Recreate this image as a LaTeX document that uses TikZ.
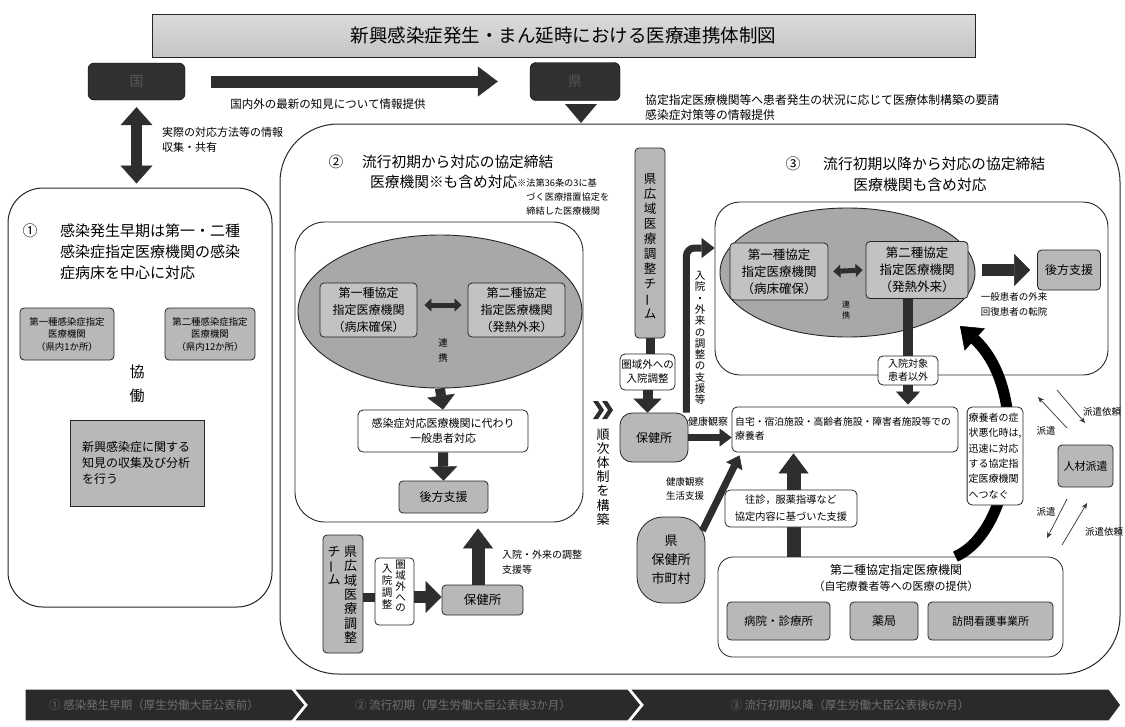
\documentclass[tikz,border=0pt]{standalone}
\usepackage{fontspec}
\setmainfont{Noto Sans CJK JP}
\usetikzlibrary{arrows.meta,shapes.geometric}
\newcommand\myfs[2]{\fontsize{#1}{#2}\selectfont}
\newcommand\vbar{\rotatebox[origin=c]{90}{ー}}
\makeatletter
\def\vt@end{\vt@end}
\newcommand\vtxt[2]{\vbox{\offinterlineskip\def\vt@sp{#1}\vt@loop#2\vt@end}}
\def\vt@loop#1{\ifx#1\vt@end\else\hbox to 1em{\hss\vrule height\vt@sp depth 0pt width 0pt\smash{#1}\hss}\expandafter\vt@loop\fi}
\makeatother
\definecolor{darkfill}{HTML}{303030}
\definecolor{darktext}{HTML}{555555}
\definecolor{arrcol}{HTML}{2E2E2E}
\definecolor{boxgray}{HTML}{B8B8B8}
\definecolor{innergray}{HTML}{C2C2C2}
\definecolor{ellgray}{HTML}{A8A8A8}
\definecolor{titlegray}{HTML}{C4C4C4}
\definecolor{barcol}{HTML}{2A2A2A}
\definecolor{bartext}{HTML}{707070}
\begin{document}
\begin{tikzpicture}[x=1pt,y=-1pt,
  every node/.style={inner sep=1pt},
  gbox/.style={draw=black!85, fill=boxgray, rounded corners=4pt, line width=0.8pt, align=center},
  ibox/.style={draw=black!85, fill=innergray, rounded corners=4pt, line width=0.8pt, align=center},
  wbox/.style={draw=black!85, fill=white, rounded corners=5pt, line width=0.8pt, align=center},
  dkbox/.style={draw=black, fill=darkfill, rounded corners=6pt, text=darktext},
  frame/.style={draw=black!85, line width=1pt},
  arrA/.style={draw=arrcol, line width=12pt, -{Triangle[length=20pt,width=30pt,line width=0.5pt]}},
  dblV/.style={draw=arrcol, line width=11pt, {Triangle[length=18pt,width=32pt,line width=0.5pt]}-{Triangle[length=18pt,width=32pt,line width=0.5pt]}},
  dblH/.style={draw=arrcol, line width=5pt, {Triangle[length=7pt,width=13pt,line width=0.5pt]}-{Triangle[length=7pt,width=13pt,line width=0.5pt]}},
  arrB/.style={draw=arrcol, line width=10pt, -{Triangle[length=14pt,width=28pt,line width=0.5pt]}},
  arrC/.style={draw=arrcol, line width=12pt, -{Triangle[length=16pt,width=32pt,line width=0.5pt]}},
  arrUp/.style={draw=arrcol, line width=13pt, -{Triangle[length=20pt,width=30pt,line width=0.5pt]}},
  arrE/.style={draw=arrcol, line width=7pt, -{Triangle[length=13pt,width=20pt,line width=0.5pt]}},
  arrF/.style={draw=arrcol, line width=7pt, -{Triangle[length=12pt,width=18pt,line width=0.5pt]}},
  arrH/.style={draw=arrcol, line width=10pt, -{Triangle[length=13pt,width=24pt,line width=0.5pt]}},
  arrI/.style={draw=arrcol, line width=14pt, -{Triangle[length=20pt,width=30pt,line width=0.5pt]}},
  curvearr/.style={draw=black, line width=11pt, -{Triangle[length=20pt,width=30pt,line width=0.5pt]}},
  stub/.style={draw=arrcol, line width=9pt},
  thin/.style={draw=black!80, line width=0.7pt, -{Stealth[length=6pt,width=5pt]}},
  seg/.style={fill=barcol, draw=white, line width=1.2pt},
  bartxt/.style={text=bartext, font=\myfs{11.5}{13}}
]
\useasboundingbox (0,0) rectangle (1125,726);
\fill[white] (0,0) rectangle (1125,726);

% ---------- header ----------
\node[draw=black!85, line width=0.8pt, top color=titlegray!60, bottom color=titlegray,
      minimum width=823pt, minimum height=43pt, font=\myfs{18.5}{20}] (title) at (563.5,35.5)
      {新興感染症発生・まん延時における医療連携体制図};
\node[dkbox, minimum width=97pt, minimum height=37pt, font=\myfs{14}{16}] (kuni) at (136.5,81.5) {国};
\node[dkbox, minimum width=90pt, minimum height=38pt, font=\myfs{14}{16}] (ken) at (575,81.5) {県};
\node[font=\myfs{11.5}{13}] (lbl1) at (328,104) {国内外の最新の知見について情報提供};
\node[anchor=west, font=\myfs{11.8}{13}] (lbl2) at (644,100) {協定指定医療機関等へ患者発生の状況に応じて医療体制構築の要請};
\node[anchor=west, font=\myfs{11.8}{13}] (lbl3) at (644,115) {感染症対策等の情報提供};
\fill[arrcol] (565,104) -- (597,104) -- (581,123) -- cycle;

% ---------- box 1 ----------
\node[frame, rounded corners=35pt, minimum width=264pt, minimum height=419pt] (box1) at (140,397.5) {};
\node[anchor=west, align=left, font=\myfs{11}{14.5}] (lbl4) at (161,140) {実際の対応方法等の情報\\収集・共有};
\node[font=\myfs{15}{21}] (n1) at (30,231) {①};
\node[anchor=west, align=left, font=\myfs{15}{21}] (t1) at (59,252) {感染発生早期は第一・二種\\感染症指定医療機関の感染\\症病床を中心に対応};
\node[gbox, minimum width=94pt, minimum height=52pt, font=\myfs{9.4}{12.5}] (s1) at (67,334) {第一種感染症指定\\医療機関\\（県内1か所）};
\node[gbox, minimum width=90pt, minimum height=52pt, font=\myfs{9.4}{12.5}] (s2) at (210,334) {第二種感染症指定\\医療機関\\（県内12か所）};
\node[font=\myfs{15}{24}] (kyodo) at (137,377) {\vtxt{24pt}{協働}};
\node[draw=black!85, fill=boxgray, line width=0.8pt, minimum width=134pt, minimum height=86pt,
      font=\myfs{12}{16}, align=left, text width=110pt] (s3) at (137,463) {新興感染症に関する\\知見の収集及び分析\\を行う};

% ---------- big box ----------
\node[frame, rounded corners=58pt, minimum width=840pt, minimum height=550pt] (box2) at (700,399) {};

% ---------- section 2 ----------
\node[font=\myfs{14.7}{18}] (n2) at (336,162) {②};
\node[anchor=west, font=\myfs{14.7}{18}] (t2a) at (361,162) {流行初期から対応の協定締結};
\node[anchor=west, font=\myfs{14.7}{18}] (t2b) at (369,182) {医療機関※も含め対応};
\node[anchor=west, align=left, font=\myfs{9.2}{14}] (note2) at (516,197) {※法第36条の3に基\\\phantom{※}づく医療措置協定を\\\phantom{※}締結した医療機関};
\node[frame, line width=0.9pt, rounded corners=30pt, minimum width=288pt, minimum height=300pt] (in2) at (439,372) {};
\node[draw=black!85, line width=0.9pt, fill=ellgray, ellipse, minimum width=284pt, minimum height=153pt, inner sep=0pt] (el2) at (440,311.5) {};
\node[ibox, minimum width=97pt, minimum height=54pt, font=\myfs{12}{17}] (e2a) at (368.5,310) {第一種協定\\指定医療機関\\（病床確保）};
\node[ibox, minimum width=97pt, minimum height=54pt, font=\myfs{12}{17}] (e2b) at (516.5,310) {第二種協定\\指定医療機関\\（発熱外来）};
\node[font=\myfs{9.5}{15.5}] (rk2) at (443,346) {\vtxt{15.5pt}{連携}};
\node[wbox, minimum width=170pt, minimum height=42pt, font=\myfs{11}{15}] (kan) at (443,431) {感染症対応医療機関に代わり\\一般患者対応};
\node[gbox, minimum width=89pt, minimum height=32pt, font=\myfs{12}{14}] (kou2) at (443.5,497) {後方支援};
\draw[dblH] ([xshift=7pt,yshift=5pt]e2a.east) -- ([xshift=-6pt,yshift=5pt]e2b.west);
\draw[arrB] (el2.south) -- (kan.north);
\draw[arrB] (kan.south) -- (kou2.north);

% lower part of section 2
\node[gbox, minimum width=40pt, minimum height=118pt] (team1) at (343,594) {};
\node[font=\myfs{13}{14.3}, anchor=north] (team1a) at (350.5,541) {\vtxt{14.3pt}{県広域医療調整}};
\node[font=\myfs{13}{14.3}, anchor=north] (team1b) at (334,541) {\vtxt{14pt}{チ\vbar ム}};
\node[wbox, rounded corners=4pt, minimum width=39pt, minimum height=67pt] (ken1) at (394.5,591.5) {};
\node[font=\myfs{10.5}{10.8}, anchor=north] (ken1a) at (400.5,557) {\vtxt{10.7pt}{圏域外への}};
\node[font=\myfs{10.5}{12}, anchor=north] (ken1b) at (387,559) {\vtxt{12pt}{入院調整}};
\node[gbox, minimum width=81pt, minimum height=30pt, font=\myfs{12.5}{14}] (hok1) at (482.5,600) {保健所};
\node[anchor=west, align=left, font=\myfs{10}{15}] (lbl5) at (501,562) {入院・外来の調整\\支援等};
\coordinate (a1) at ([yshift=-3pt]team1.east);
\draw[stub] (a1) -- (a1 -| ken1.west);
\draw[arrC] (ken1.east |- a1) -- (hok1.west |- a1);
\coordinate (u1) at ([xshift=-4.5pt]hok1.north);
\coordinate (u2) at (u1 |- in2.south);
\draw[arrUp] (u1) -- ([yshift=-6pt]u2);

% ---------- middle ----------
\foreach \xx in {593,602} {
  \fill[arrcol] (\xx,401) -- (\xx+5,401) -- (\xx+11,410) -- (\xx+5,419) -- (\xx,419) -- (\xx+6,410) -- cycle;
}
\node[font=\myfs{13}{14.2}] (junji) at (603,474.5) {\vtxt{14.2pt}{順次体制を構築}};
\node[gbox, minimum width=30pt, minimum height=190pt, font=\myfs{12.5}{15}] (team2) at (650,243) {\vtxt{15pt}{県広域医療調整チ\vbar ム}};
\node[wbox, minimum width=55pt, minimum height=36pt, font=\myfs{10.5}{14}] (ken2) at (647.5,372) {圏域外への\\入院調整};
\node[gbox, rounded corners=12pt, minimum width=68pt, minimum height=49pt, font=\myfs{12}{14}] (hok2) at (654,437.5) {保健所};
\draw[stub] (team2.south) -- (team2.south |- ken2.north);
\draw[arrB] (ken2.south) -- (ken2.south |- hok2.north);

% ---------- section 3 ----------
\node[frame, line width=0.9pt, rounded corners=25pt, minimum width=393pt, minimum height=173pt] (in3) at (911.5,288.5) {};
\node[font=\myfs{15}{18}] (n3) at (793,164) {③};
\node[anchor=west, font=\myfs{14.8}{18}] (t3a) at (822,164) {流行初期以降から対応の協定締結};
\node[font=\myfs{14.8}{18}] (t3b) at (920,185) {医療機関も含め対応};
\node[draw=black!85, line width=0.9pt, fill=ellgray, ellipse, minimum width=255pt, minimum height=129pt, inner sep=0pt] (el3) at (847.5,272.5) {};
\node[ibox, minimum width=98pt, minimum height=57pt, font=\myfs{12.5}{17}] (e3a) at (779,271.5) {第一種協定\\指定医療機関\\（病床確保）};
\node[ibox, minimum width=102pt, minimum height=57pt, font=\myfs{12.5}{17}] (e3b) at (917,270) {第二種協定\\指定医療機関\\（発熱外来）};
\node[font=\myfs{8}{11}] (rk3) at (846,307) {\vtxt{11pt}{連携}};
\node[gbox, minimum width=63pt, minimum height=40pt, font=\myfs{12}{14}] (kou3) at (1069,270) {後方支援};
\node[align=center, font=\myfs{9.5}{15}] (lbl8) at (1014,304.5) {一般患者の外来\\回復患者の転院};
\node[wbox, minimum width=60pt, minimum height=29pt, font=\myfs{10}{13}] (inj) at (908,370.5) {入院対象\\患者以外};
\draw[dblH] ([xshift=5pt]e3a.east) -- ([xshift=-3pt]e3b.west);
\draw[arrC] ([xshift=14pt]e3b.east) -- ([xshift=-7pt]kou3.west);

% elbow arrow from middle hokenjo
\coordinate (e1) at ([xshift=-2pt]hok2.north east);
\coordinate (y248) at (0,248);
\draw[arrE, rounded corners=8pt] (e1) -- (e1 |- y248) -- (in3.west |- y248);
\node[font=\myfs{10.5}{11.3}] (lbl6) at (700,336) {\vtxt{11.3pt}{入院・外来の調整の支援等}};

% home care box
\node[wbox, minimum width=226pt, minimum height=45pt] (jit) at (845,429.5) {};
\node[anchor=west, align=left, font=\myfs{9.8}{14}] (jitt) at (734,429) {自宅・宿泊施設・高齢者施設・障害者施設等での\\療養者};
\draw[arrF] (hok2.east) -- (hok2.east -| jit.west);
\node[font=\myfs{10}{12}] (lbl7) at (708,422) {健康観察};
\draw[arrH, -] (e3b.south -| inj.north) -- (inj.north);
\draw[arrH] (inj.south) -- ([yshift=2pt]inj.south |- jit.north);

% lower box
\node[wbox, rounded corners=15pt, minimum width=345pt, minimum height=100pt] (low) at (890.5,607) {};
\node[align=center, font=\myfs{12}{16}] (lowt) at (896,578) {第二種協定指定医療機関\\{\myfs{11}{16}（自宅療養者等への医療の提供）}};
\node[gbox, minimum width=103pt, minimum height=38pt, font=\myfs{11.5}{13}] (b1) at (778.5,621) {病院・診療所};
\node[gbox, minimum width=68pt, minimum height=38pt, font=\myfs{12}{13}] (b2) at (884,621) {薬局};
\node[gbox, minimum width=125pt, minimum height=38pt, font=\myfs{11}{13}] (b3) at (990.5,621) {訪問看護事業所};

\coordinate (ua) at ([xshift=-97pt]low.north);
\draw[arrI] (ua) -- ([yshift=-1pt]ua |- jit.south);
\node[wbox, minimum width=132pt, minimum height=37pt, font=\myfs{10.2}{17}] (oushin) at (791,508.5) {往診，服薬指導など\\協定内容に基づいた支援};

% curved arrow
\coordinate (cs) at ([xshift=-108pt]low.north east);
\coordinate (ce) at (960,326);
\draw[curvearr] (cs) .. controls (1015,530) and (1030,390) .. (ce);
\node[wbox, minimum width=54pt, minimum height=98pt, align=left, font=\myfs{10}{15.4}, inner xsep=1.5pt] (ryo) at (995,456)
  {療養者の症\\状悪化時は,\\迅速に対応\\する協定指\\定医療機関\\へつなぐ};

% kenhokenjo
\node[gbox, rounded corners=26pt, minimum width=68pt, minimum height=86pt, font=\myfs{13}{19}] (kh) at (671,560) {県\\保健所\\市町村};
\draw[arrF] ([xshift=-3pt,yshift=-14pt]kh.north east) -- ([xshift=8pt,yshift=-3pt]jit.south west);
\node[align=center, font=\myfs{9.5}{14}] (lbl9) at (685,489) {健康観察\\生活支援};

% human resources
\node[gbox, minimum width=55pt, minimum height=42pt, font=\myfs{11}{13}] (jinzai) at (1085.5,466) {人材派遣};
\coordinate (pA1) at (1067,428); \coordinate (pA2) at (1038,397);
\coordinate (pB1) at (1057,390); \coordinate (pB2) at (1085,423);
\coordinate (pC1) at (1067,499); \coordinate (pC2) at (1047,538);
\coordinate (pD1) at (1062,545); \coordinate (pD2) at (1087,503);
\draw[thin] (pA1) -- (pA2);
\draw[thin] (pB1) -- (pB2);
\draw[thin] (pC1) -- (pC2);
\draw[thin] (pD1) -- (pD2);
\node[font=\myfs{9.5}{11}] (hA) at (1046,431) {派遣};
\node[font=\myfs{9.5}{11}] (hB) at (1102,412) {派遣依頼};
\node[font=\myfs{9.5}{11}] (hC) at (1046,512) {派遣};
\node[font=\myfs{9.5}{11}] (hD) at (1104,532) {派遣依頼};

% ---------- arrows of header ----------
\draw[arrA] ([xshift=26pt]kuni.east) -- ([xshift=-32pt]ken.west);
\draw[dblV] ([yshift=-7pt]kuni.south) -- ([yshift=4pt]kuni.south |- box1.north);

% ---------- bottom bar ----------
\path[seg] (25,689) -- (292,689) -- (305,705) -- (292,721) -- (25,721) -- cycle;
\path[seg] (294,689) -- (628,689) -- (641,705) -- (628,721) -- (294,721) -- (307,705) -- cycle;
\path[seg] (630,689) -- (1109,689) -- (1121,705) -- (1109,721) -- (630,721) -- (643,705) -- cycle;
\node[bartxt] (p1) at (154,705) {① 感染発生早期（厚生労働大臣公表前）};
\node[bartxt] (p2) at (463,705) {② 流行初期（厚生労働大臣公表後3か月）};
\node[bartxt] (p3) at (850,705) {③ 流行初期以降（厚生労働大臣公表後6か月）};
\end{tikzpicture}
\end{document}
